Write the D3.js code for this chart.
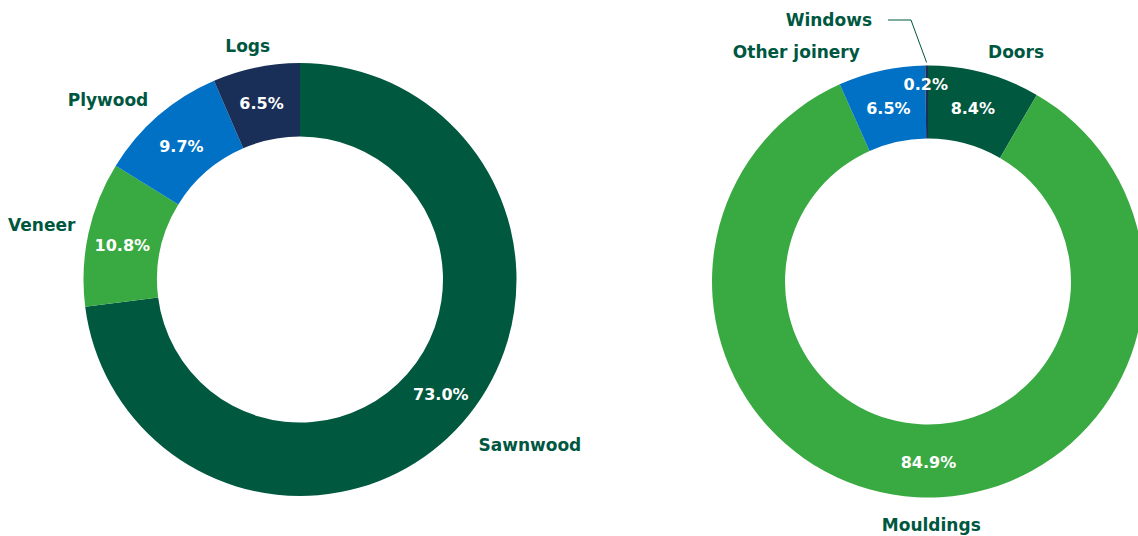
<!DOCTYPE html>
<html>
<head>
<meta charset="utf-8">
<script src="https://cdn.jsdelivr.net/npm/d3@7/dist/d3.min.js"></script>
<style>
  html, body { margin: 0; padding: 0; background: #fff; }
  svg { display: block; }
  text { font-family: "DejaVu Sans", sans-serif; font-weight: bold; }
</style>
</head>
<body>
<svg id="chart" width="1138" height="536"></svg>
<script>
// Export shares by product group (%)
const woodCategories = ["Sawnwood", "Veneer", "Plywood", "Logs"];
const woodValues = [73.0, 10.8, 9.7, 6.5];

const joineryCategories = ["Doors", "Mouldings", "Other joinery", "Windows"];
const joineryValues = [8.4, 84.9, 6.5, 0.2];

const colors = {
  darkGreen: "#00583f",
  green: "#39a942",
  blue: "#0071c5",
  navy: "#1a2f58",
  label: "#00573f"
};

const woodColors = [colors.darkGreen, colors.green, colors.blue, colors.navy];
const joineryColors = [colors.darkGreen, colors.green, colors.blue, colors.navy];

// Layout tweaks for the text around each ring: [dx, dy, anchor]
const woodLabelNudge = [[0, 8, "start"], [8, -4, "end"], [4, 0, "end"], [-4, -1, "middle"]];
const woodValueNudge = [[6, -4], [-2, 4], [-1, 3], [-2, 0]];
const joineryLabelNudge = [[-2, 0, "start"], [16, 6, "middle"], [-17, 3, "end"], [0, 0, "end"]];
const joineryValueNudge = [[-2, 0], [10, 1], [-1, 2], [0, 0]];

const svg = d3.select("#chart");

function drawDonut(cfg) {
  const data = cfg.categories.map((c, i) => ({ name: c, value: cfg.values[i], color: cfg.colors[i] }));
  const pie = d3.pie().value(d => d.value).sort(null);
  const arcs = pie(data);
  const arc = d3.arc().innerRadius(cfg.inner).outerRadius(cfg.outer);
  const labelArc = d3.arc().innerRadius(cfg.labelR).outerRadius(cfg.labelR);

  const g = svg.append("g").attr("transform", `translate(${cfg.cx},${cfg.cy})`);

  g.selectAll("path.slice")
    .data(arcs)
    .join("path")
    .attr("class", "slice")
    .attr("d", arc)
    .attr("fill", d => d.data.color);

  // percentage values inside the ring
  g.selectAll("text.value")
    .data(arcs.filter(d => d.value >= 1))
    .join("text")
    .attr("class", "value")
    .attr("transform", d => {
      const [x, y] = arc.centroid(d);
      const n = cfg.valueNudge[d.index];
      return `translate(${x + n[0]},${y + n[1]})`;
    })
    .attr("text-anchor", "middle")
    .attr("dy", "0.36em")
    .attr("fill", "#fff")
    .attr("font-size", 16)
    .text(d => d.data.value.toFixed(1) + "%");

  // category names outside the ring
  g.selectAll("text.cat")
    .data(arcs.filter(d => d.value >= 1))
    .join("text")
    .attr("class", "cat")
    .attr("transform", d => {
      const [x, y] = labelArc.centroid(d);
      const n = cfg.labelNudge[d.index];
      return `translate(${x + n[0]},${y + n[1]})`;
    })
    .attr("text-anchor", d => cfg.labelNudge[d.index][2])
    .attr("dy", "0.36em")
    .attr("fill", colors.label)
    .attr("font-size", 17)
    .text(d => d.data.name);

  return { g, arcs, arc };
}

drawDonut({
  cx: 300, cy: 279.5, outer: 216.5, inner: 143, labelR: 238,
  categories: woodCategories, values: woodValues, colors: woodColors,
  labelNudge: woodLabelNudge, valueNudge: woodValueNudge
});

const right = drawDonut({
  cx: 928, cy: 281.5, outer: 216, inner: 143, labelR: 238,
  categories: joineryCategories, values: joineryValues, colors: joineryColors,
  labelNudge: joineryLabelNudge, valueNudge: joineryValueNudge
});

// the thin Windows slice gets its value near the rim and a leader-line label
const win = right.arcs[3];
const winMid = (win.startAngle + win.endAngle) / 2;
const rimR = 216 + 3;
const rim = [Math.sin(winMid) * rimR, -Math.cos(winMid) * rimR];
const elbow = [-17, -261.5];
const tail = [-40, -261.5];

right.g.append("path")
  .attr("d", d3.line()([rim, elbow, tail]))
  .attr("fill", "none")
  .attr("stroke", colors.label)
  .attr("stroke-width", 1);

right.g.append("text")
  .attr("x", tail[0] - 16)
  .attr("y", tail[1])
  .attr("dy", "0.36em")
  .attr("text-anchor", "end")
  .attr("fill", colors.label)
  .attr("font-size", 17)
  .text(win.data.name);

const winValR = 197;
right.g.append("text")
  .attr("x", Math.sin(winMid) * winValR - 1)
  .attr("y", -Math.cos(winMid) * winValR)
  .attr("dy", "0.36em")
  .attr("text-anchor", "middle")
  .attr("fill", "#fff")
  .attr("font-size", 16)
  .text(win.data.value.toFixed(1) + "%");
</script>
</body>
</html>
